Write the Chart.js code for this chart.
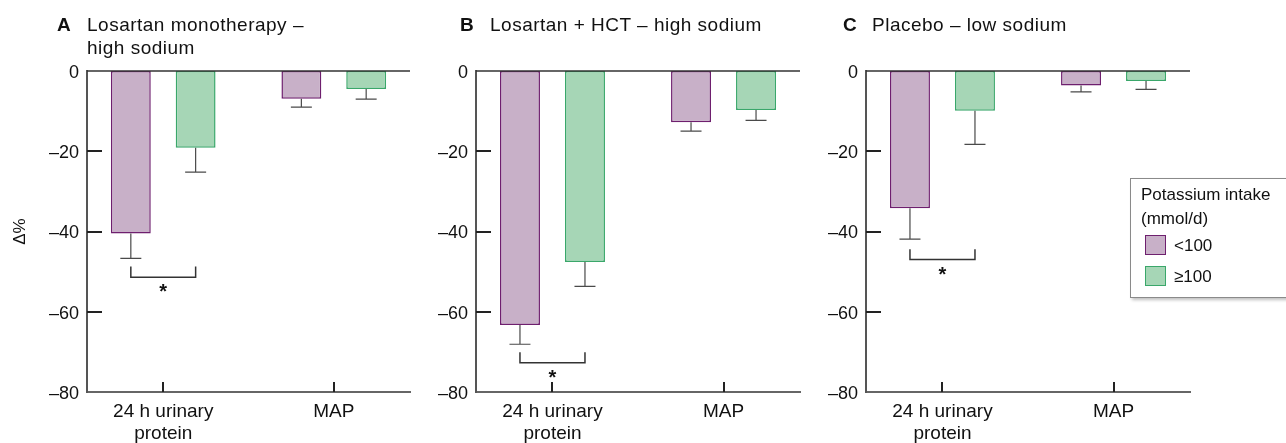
<!DOCTYPE html>
<html>
<head>
<meta charset="utf-8">
<script src="https://cdn.jsdelivr.net/npm/chart.js@4"></script>
<style>
  html, body { margin:0; padding:0; background:#fff; }
  body { width:1286px; height:443px; position:relative; overflow:hidden; font-family:"Liberation Sans", Arial, sans-serif; color:#111; }
  canvas { position:absolute; top:0; }
  .letter { position:absolute; top:13px; font-size:19px; font-weight:bold; line-height:23px; }
  .ttl { position:absolute; top:13px; font-size:19px; line-height:23px; letter-spacing:0.5px; white-space:pre; }
  #legend { position:absolute; left:1130px; top:178px; width:170px; height:118px; border:1px solid #8a8a8a; background:#fff;
            box-shadow:2px 2px 3px rgba(0,0,0,0.25); font-size:17px; z-index:5; }
  #legend .hd { position:absolute; left:10px; top:4px; line-height:24px; white-space:pre; }
  #legend .sw { position:absolute; left:14px; width:19px; height:18px; border:1.5px solid; }
  #legend .lb { position:absolute; left:43px; line-height:20px; }
</style>
</head>
<body>
<canvas id="cA" width="430" height="443" style="left:0px;width:430px;height:443px"></canvas>
<canvas id="cB" width="430" height="443" style="left:390px;width:430px;height:443px"></canvas>
<canvas id="cC" width="430" height="443" style="left:780px;width:430px;height:443px"></canvas>

<div class="letter" style="left:57px">A</div>
<div class="ttl" id="tA" style="left:87px"></div>
<div class="letter" style="left:460px">B</div>
<div class="ttl" id="tB" style="left:490px"></div>
<div class="letter" style="left:843px">C</div>
<div class="ttl" id="tC" style="left:872px"></div>

<div id="legend">
  <div class="hd" id="legHead"></div>
  <div class="sw" id="sw0" style="top:56px"></div><div class="lb" id="lb0" style="top:57px"></div>
  <div class="sw" id="sw1" style="top:87px"></div><div class="lb" id="lb1" style="top:88px"></div>
</div>

<script>
// ---------------- data ----------------
const categories = [['24 h urinary', 'protein'], ['MAP']];
const seriesNames = ['<100', '\u2265100'];
const legendTitle = 'Potassium intake\n(mmol/d)';
const panelLetters = ['A', 'B', 'C'];
const panelTitles = ['Losartan monotherapy \u2013\nhigh sodium', 'Losartan + HCT \u2013 high sodium', 'Placebo \u2013 low sodium'];
const yTickValues = [0, -20, -40, -60, -80];

// Panel A: Losartan monotherapy – high sodium
const aLowK = [-40.5, -6.9];
const aLowKErr = [6.2, 2.1];
const aHighK = [-19.1, -4.5];
const aHighKErr = [6.1, 2.5];
const aSig = [-48.7, -51.4];   // bracket top / bottom (Δ%)

// Panel B: Losartan + HCT – high sodium
const bLowK = [-63.3, -12.8];
const bLowKErr = [4.8, 2.2];
const bHighK = [-47.6, -9.7];
const bHighKErr = [6.1, 2.6];
const bSig = [-70.1, -72.7];

// Panel C: Placebo – low sodium
const cLowK = [-34.2, -3.6];
const cLowKErr = [7.7, 1.6];
const cHighK = [-9.9, -2.5];
const cHighKErr = [8.4, 2.1];
const cSig = [-44.4, -47.0];

// ---------------- styles ----------------
const COL = {
  low:  { fill: '#c8b0c8', border: '#6e1f6e' },
  high: { fill: '#a6d6b6', border: '#3aa76a' }
};
const FONT = '"Liberation Sans", Arial, sans-serif';

// titles & legend text
document.getElementById('tA').textContent = panelTitles[0];
document.getElementById('tB').textContent = panelTitles[1];
document.getElementById('tC').textContent = panelTitles[2];
document.getElementById('legHead').textContent = legendTitle;
document.getElementById('lb0').textContent = seriesNames[0];
document.getElementById('lb1').textContent = seriesNames[1];
const sw0 = document.getElementById('sw0'); sw0.style.background = COL.low.fill; sw0.style.borderColor = COL.low.border;
const sw1 = document.getElementById('sw1'); sw1.style.background = COL.high.fill; sw1.style.borderColor = COL.high.border;

// ---------------- decoration plugin ----------------
const decor = {
  id: 'decor',
  afterDatasetsDraw(chart, args, opts) {
    const ctx = chart.ctx;
    const ys = chart.scales.y, xs = chart.scales.x;
    const area = chart.chartArea;
    ctx.save();
    // error bars
    chart.data.datasets.forEach((ds, di) => {
      const meta = chart.getDatasetMeta(di);
      meta.data.forEach((bar, i) => {
        const v = ds.data[i], e = ds.errors[i];
        const y0 = ys.getPixelForValue(v), y1 = ys.getPixelForValue(v - e);
        ctx.strokeStyle = '#4a4a4a';
        ctx.lineWidth = 1.2;
        ctx.beginPath();
        ctx.moveTo(bar.x, y0); ctx.lineTo(bar.x, y1);
        ctx.moveTo(bar.x - 10.5, y1); ctx.lineTo(bar.x + 10.5, y1);
        ctx.stroke();
      });
    });
    // zero line
    const yz = ys.getPixelForValue(0);
    ctx.strokeStyle = '#333';
    ctx.lineWidth = 1.6;
    ctx.beginPath(); ctx.moveTo(area.left, yz); ctx.lineTo(area.right, yz); ctx.stroke();
    // inward y ticks
    ctx.strokeStyle = '#222';
    ctx.lineWidth = 2;
    yTickValues.forEach(v => {
      if (v === ys.min || v === ys.max) return;
      const py = Math.round(ys.getPixelForValue(v));
      ctx.beginPath(); ctx.moveTo(area.left, py); ctx.lineTo(area.left + 15, py); ctx.stroke();
    });
    // inward x ticks
    categories.forEach((c, i) => {
      const px = Math.round(xs.getPixelForValue(i));
      ctx.beginPath(); ctx.moveTo(px, area.bottom); ctx.lineTo(px, area.bottom - 10); ctx.stroke();
    });
    // significance bracket
    if (opts.sig) {
      const xl = chart.getDatasetMeta(0).data[0].x;
      const xr = chart.getDatasetMeta(1).data[0].x;
      const yt = ys.getPixelForValue(opts.sig[0]);
      const yb = ys.getPixelForValue(opts.sig[1]);
      ctx.strokeStyle = '#333';
      ctx.lineWidth = 1.5;
      ctx.beginPath();
      ctx.moveTo(xl, yt); ctx.lineTo(xl, yb); ctx.lineTo(xr, yb); ctx.lineTo(xr, yt);
      ctx.stroke();
      ctx.fillStyle = '#111';
      ctx.font = 'bold 20px ' + FONT;
      ctx.textAlign = 'center';
      ctx.textBaseline = 'alphabetic';
      ctx.fillText('*', (xl + xr) / 2, yb + 21);
    }
    ctx.restore();
  }
};

function makeChart(id, low, lowErr, high, highErr, sig, yWidth, showTitle) {
  return new Chart(document.getElementById(id), {
    type: 'bar',
    data: {
      labels: [0, 1],
      datasets: [
        { label: seriesNames[0], data: low, errors: lowErr, backgroundColor: COL.low.fill, borderColor: COL.low.border, borderWidth: 1.5, borderSkipped: false },
        { label: seriesNames[1], data: high, errors: highErr, backgroundColor: COL.high.fill, borderColor: COL.high.border, borderWidth: 1.5, borderSkipped: false }
      ]
    },
    options: {
      responsive: false,
      animation: false,
      devicePixelRatio: 1,
      categoryPercentage: 0.76,
      barPercentage: 0.615,
      layout: { padding: { left: 0, right: 20, top: 71, bottom: 0 } },
      plugins: {
        legend: { display: false },
        tooltip: { enabled: false },
        decor: { sig: sig }
      },
      scales: {
        x: {
          type: 'linear',
          offset: false,
          min: -0.447,
          max: 1.447,
          afterBuildTicks: s => { s.ticks = categories.map((c, i) => ({ value: i })); },
          afterFit: s => { s.height = 51; },
          grid: { display: false, drawTicks: false, offset: false },
          border: { display: true, color: '#666', width: 2 },
          ticks: {
            autoSkip: false, maxRotation: 0, padding: 8,
            color: '#111',
            font: { family: FONT, size: 19, lineHeight: 1.2 },
            callback: v => categories[v]
          }
        },
        y: {
          min: -80, max: 0,
          afterBuildTicks: s => { s.ticks = yTickValues.map(v => ({ value: v })); },
          afterFit: s => { s.width = yWidth; },
          grid: { display: false, drawTicks: false },
          border: { display: true, color: '#555', width: 2 },
          title: { display: showTitle, text: '\u0394%', color: '#111', font: { family: FONT, size: 17 }, padding: { top: 10, bottom: 0 } },
          ticks: {
            padding: 8, labelOffset: 2,
            color: '#111',
            font: { family: FONT, size: 18 },
            callback: v => (v < 0 ? '\u2013' + Math.abs(v) : String(v))
          }
        }
      }
    },
    plugins: [decor]
  });
}

makeChart('cA', aLowK, aLowKErr, aHighK, aHighKErr, aSig, 87, true);
makeChart('cB', bLowK, bLowKErr, bHighK, bHighKErr, bSig, 86, false);
makeChart('cC', cLowK, cLowKErr, cHighK, cHighKErr, cSig, 86, false);
</script>
</body>
</html>
